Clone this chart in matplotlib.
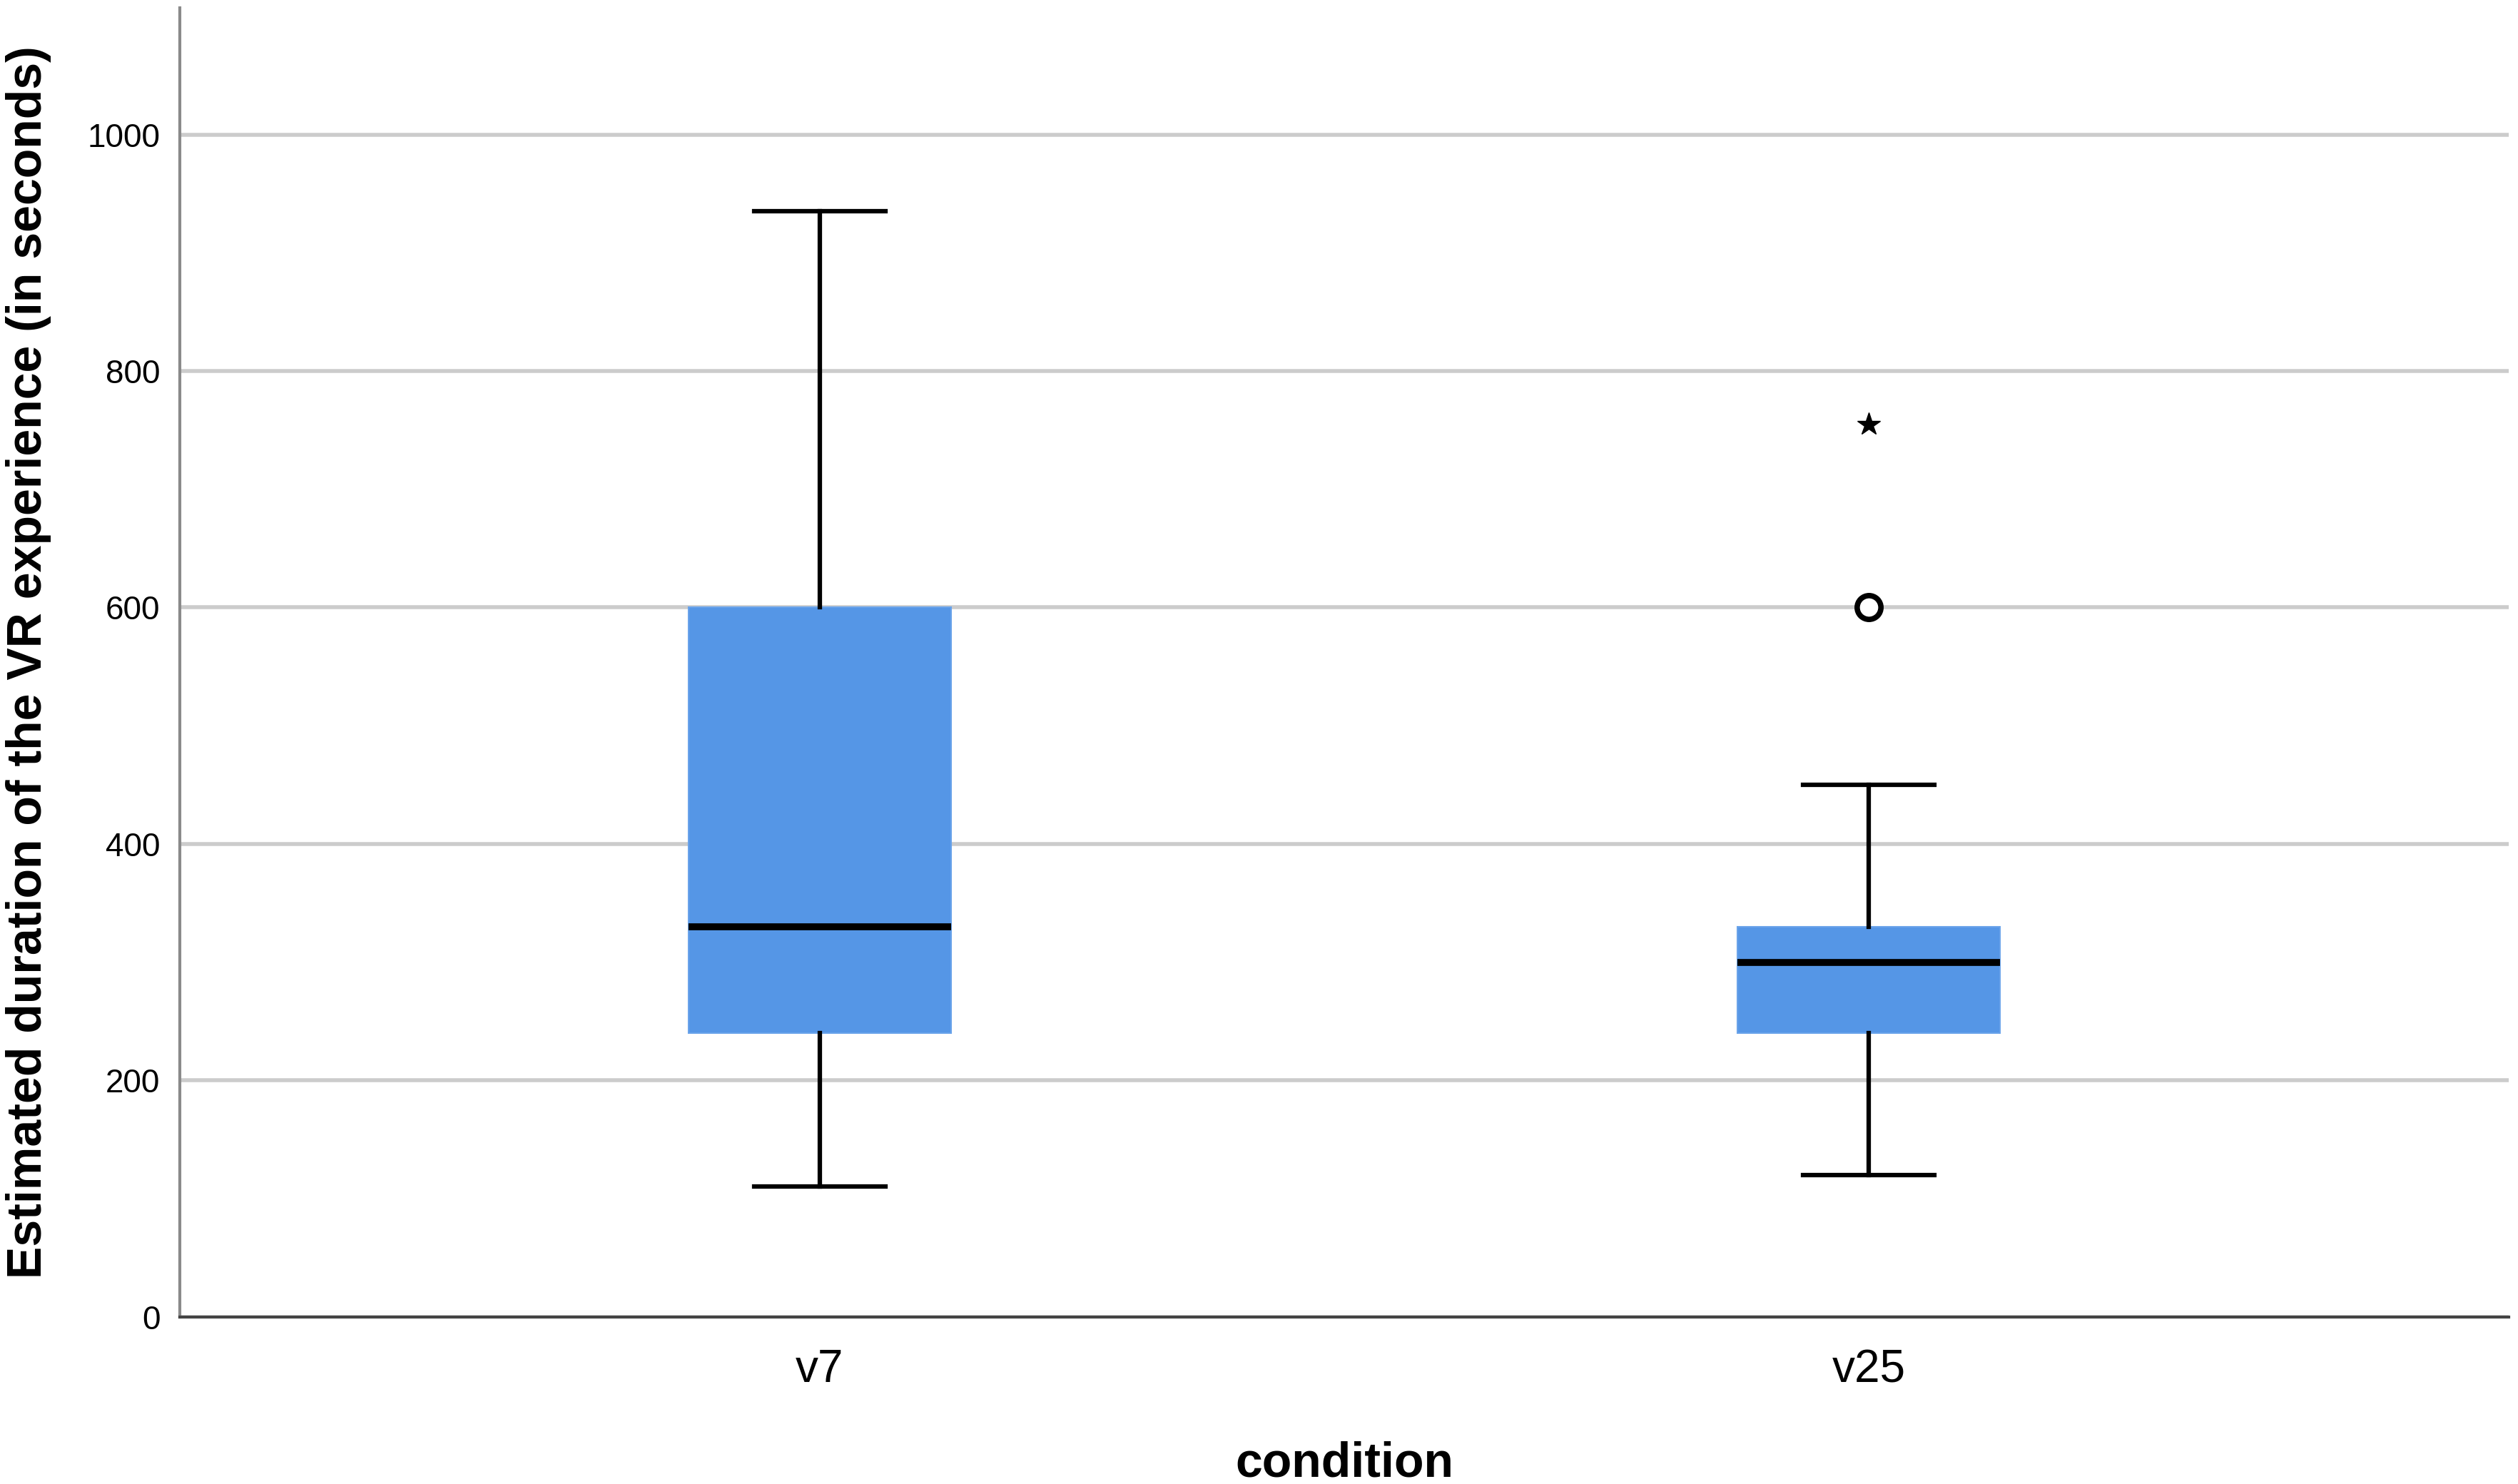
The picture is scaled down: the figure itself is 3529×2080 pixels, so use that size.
import matplotlib.pyplot as plt

# Box plot summary
conditions = ["v7", "v25"]
whisker_low = [110, 120]
q1 = [240, 240]
medians = [330, 300]
q3 = [600, 330]
whisker_high = [935, 450]
outliers = [[], [600]]      # drawn as circles
extremes = [[], [755]]      # drawn as stars

plt.rcParams["font.family"] = ["Liberation Sans", "DejaVu Sans"]

fig = plt.figure(figsize=(35.3, 20.8), dpi=100)
ax = fig.add_axes([0.0714, 0.1126, 0.9246, 0.882])

stats = []
for i, name in enumerate(conditions):
    stats.append({
        "label": name,
        "whislo": whisker_low[i],
        "q1": q1[i],
        "med": medians[i],
        "q3": q3[i],
        "whishi": whisker_high[i],
        "fliers": outliers[i],
    })

positions = list(range(1, len(conditions) + 1))
ax.bxp(stats, positions=positions, widths=0.25, patch_artist=True,
       boxprops=dict(facecolor="#5596e6", edgecolor="#6aa3ea", linewidth=1.5),
       medianprops=dict(color="black", linewidth=7),
       whiskerprops=dict(color="black", linewidth=4.5),
       capprops=dict(color="black", linewidth=4.5),
       capwidths=0.125,
       flierprops=dict(marker="o", markerfacecolor="white", markeredgecolor="black",
                       markersize=24, markeredgewidth=5.5),
       zorder=3)

for p, ext in zip(positions, extremes):
    if ext:
        ax.plot([p] * len(ext), ext, linestyle="none", marker="*", color="black",
                markersize=24, zorder=4)

ax.set_xlim(0.39, 2.61)
ax.set_ylim(0, 1107)
ax.set_yticks([0, 200, 400, 600, 800, 1000])
ax.yaxis.grid(True, color="#cccccc", linewidth=4, zorder=0)
ax.set_axisbelow(True)

ax.tick_params(axis="both", length=0)
ax.tick_params(axis="y", labelsize=33, pad=20)
ax.tick_params(axis="x", labelsize=46, pad=32)

for side in ["top", "right"]:
    ax.spines[side].set_visible(False)
ax.spines["left"].set_color("#8a8a8a")
ax.spines["left"].set_linewidth(3)
ax.spines["bottom"].set_color("#444444")
ax.spines["bottom"].set_linewidth(3)

ax.set_ylabel("Estimated duration of the VR experience (in seconds)",
              fontsize=49, fontweight="bold", labelpad=36)
ax.set_xlabel("condition", fontsize=49, fontweight="bold", labelpad=50)

fig.savefig("out.png", dpi=100)
